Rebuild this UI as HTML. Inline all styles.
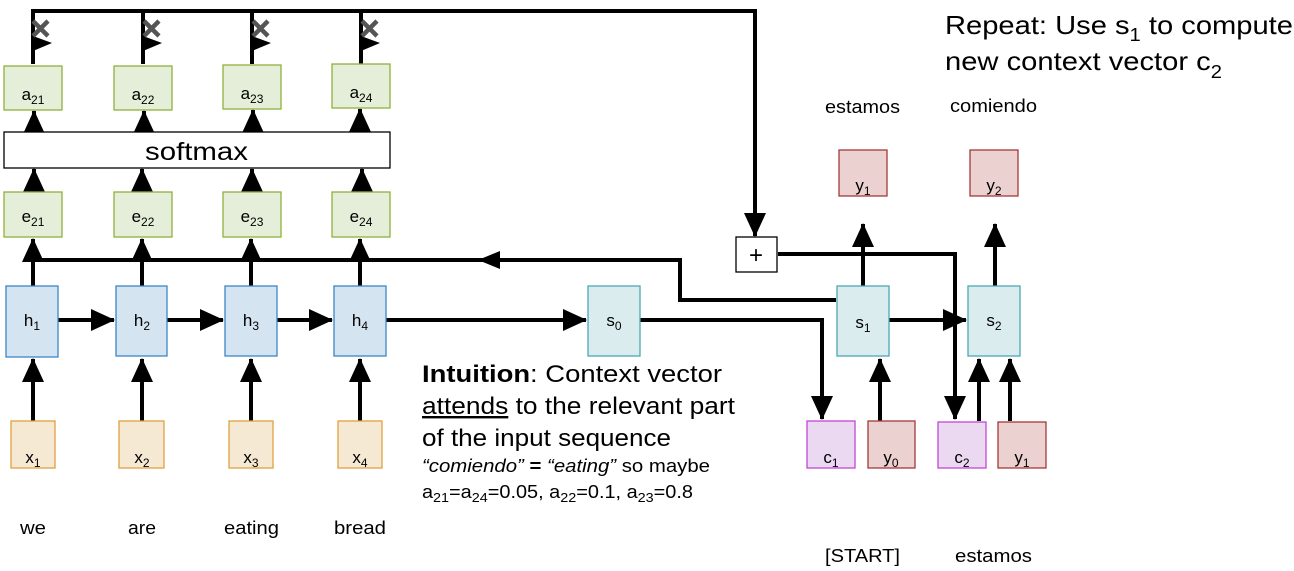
<!DOCTYPE html>
<html><head><meta charset="utf-8"><style>
html,body{margin:0;padding:0;background:#fff;}
svg{display:block;font-family:"Liberation Sans",Arial,sans-serif;}
</style></head><body>
<svg width="1294" height="571" viewBox="0 0 1294 571" xmlns="http://www.w3.org/2000/svg">
<defs>
<marker id="ar" markerWidth="24" markerHeight="22" refX="23" refY="11" orient="auto" markerUnits="userSpaceOnUse" overflow="visible">
<path d="M0,0 L24,11 L0,22 z" fill="#000"/></marker>
</defs>
<g stroke="#000" stroke-width="4" fill="none">
<polyline points="33,44 33,11 755,11 755,236" marker-end="url(#ar)"/>
<line x1="143" y1="44" x2="143" y2="11"/>
<line x1="252" y1="44" x2="252" y2="11"/>
<line x1="361" y1="44" x2="361" y2="11"/>
<line x1="33" y1="64" x2="33" y2="36"/>
<line x1="143" y1="64" x2="143" y2="36"/>
<line x1="252" y1="64" x2="252" y2="36"/>
<line x1="361" y1="64" x2="361" y2="36"/>
<polyline points="33,260 680,260 680,300 836,300"/>
<polyline points="778,254 955,254 955,419" marker-end="url(#ar)"/>
<polyline points="640,320 822,320 822,419" marker-end="url(#ar)"/>
<line x1="58" y1="320" x2="114" y2="320" marker-end="url(#ar)"/>
<line x1="167" y1="320" x2="223" y2="320" marker-end="url(#ar)"/>
<line x1="277" y1="320" x2="332" y2="320" marker-end="url(#ar)"/>
<line x1="386" y1="320" x2="586" y2="320" marker-end="url(#ar)"/>
<line x1="889" y1="320" x2="966" y2="320" marker-end="url(#ar)"/>
</g>
<path d="M478,260 L500,251 L500,269 z" fill="#000"/>
<g stroke="#000" stroke-width="4" fill="none" marker-end="url(#ar)">
<line x1="33" y1="421" x2="33" y2="359"/>
<line x1="142" y1="421" x2="142" y2="359"/>
<line x1="251" y1="421" x2="251" y2="359"/>
<line x1="360" y1="421" x2="360" y2="359"/>
<line x1="33" y1="286" x2="33" y2="239"/>
<line x1="142" y1="286" x2="142" y2="239"/>
<line x1="251" y1="286" x2="251" y2="239"/>
<line x1="360" y1="286" x2="360" y2="239"/>
<line x1="34" y1="192" x2="34" y2="169"/>
<line x1="142" y1="192" x2="142" y2="169"/>
<line x1="252" y1="192" x2="252" y2="169"/>
<line x1="362" y1="192" x2="362" y2="169"/>
<line x1="34" y1="132" x2="34" y2="111"/>
<line x1="144" y1="132" x2="144" y2="111"/>
<line x1="253" y1="132" x2="253" y2="110"/>
<line x1="360" y1="132" x2="360" y2="109"/>
<line x1="863" y1="286" x2="863" y2="224"/>
<line x1="995" y1="286" x2="995" y2="224"/>
<line x1="880" y1="421" x2="880" y2="359"/>
<line x1="979" y1="421" x2="979" y2="359"/>
<line x1="1010" y1="421" x2="1010" y2="359"/>
</g>
<g fill="#000">
<path d="M33,36 L52,43 L33,51 z"/>
<path d="M143,36 L162,43 L143,51 z"/>
<path d="M252,36 L271,43 L252,51 z"/>
<path d="M361,36 L380,43 L361,51 z"/>
</g>
<g stroke="#555" stroke-width="4.5">
<path d="M33,21 L48,36 M48,21 L33,36"/>
<path d="M144,21 L159,36 M159,21 L144,36"/>
<path d="M253,21 L268,36 M268,21 L253,36"/>
<path d="M362,21 L377,36 M377,21 L362,36"/>
</g>
<g fill="#e5eed8" stroke="#8fb03c" stroke-width="1.3">
<rect x="4" y="66" width="58" height="44"/>
<rect x="114" y="66" width="58" height="44"/>
<rect x="223" y="65" width="58" height="44"/>
<rect x="332" y="64" width="58" height="44"/>
<rect x="4" y="192" width="58" height="45"/>
<rect x="114" y="192" width="58" height="45"/>
<rect x="223" y="192" width="58" height="45"/>
<rect x="332" y="192" width="58" height="45"/>
</g>
<rect x="4" y="132" width="386" height="36" fill="#fff" stroke="#000" stroke-width="1.3"/>
<text x="145" y="160" font-size="25" textLength="103" lengthAdjust="spacingAndGlyphs">softmax</text>
<g fill="#d5e4f1" stroke="#3d85c6" stroke-width="1.3">
<rect x="6" y="286" width="52" height="71"/>
<rect x="116" y="286" width="51" height="70"/>
<rect x="225" y="286" width="52" height="70"/>
<rect x="334" y="286" width="52" height="70"/>
</g>
<g fill="#f5e9d4" stroke="#e0a040" stroke-width="1.3">
<rect x="11" y="421" width="44" height="47"/>
<rect x="119" y="421" width="45" height="47"/>
<rect x="229" y="421" width="44" height="47"/>
<rect x="338" y="421" width="44" height="47"/>
</g>
<g fill="#daeced" stroke="#4aa8b5" stroke-width="1.3">
<rect x="588" y="286" width="52" height="70"/>
<rect x="837" y="286" width="52" height="70"/>
<rect x="968" y="286" width="52" height="70"/>
</g>
<g fill="#ebd9f2" stroke="#c247d6" stroke-width="1.3">
<rect x="807" y="421" width="48" height="47"/>
<rect x="938" y="422" width="48" height="46"/>
</g>
<g fill="#ecd1d1" stroke="#a33a3a" stroke-width="1.3">
<rect x="868" y="421" width="47" height="47"/>
<rect x="998" y="422" width="48" height="46"/>
<rect x="839" y="150" width="48" height="46"/>
<rect x="970" y="150" width="48" height="46"/>
</g>
<rect x="736" y="237" width="41" height="35" fill="#fff" stroke="#000" stroke-width="1.3"/>
<text x="756" y="263" font-size="24" text-anchor="middle">+</text>
<g font-size="17" text-anchor="middle">
<text x="33" y="100">a<tspan font-size="12" dy="4">21</tspan></text>
<text x="143" y="100">a<tspan font-size="12" dy="4">22</tspan></text>
<text x="252" y="99">a<tspan font-size="12" dy="4">23</tspan></text>
<text x="361" y="98">a<tspan font-size="12" dy="4">24</tspan></text>
<text x="33" y="222">e<tspan font-size="12" dy="4">21</tspan></text>
<text x="143" y="222">e<tspan font-size="12" dy="4">22</tspan></text>
<text x="252" y="222">e<tspan font-size="12" dy="4">23</tspan></text>
<text x="361" y="222">e<tspan font-size="12" dy="4">24</tspan></text>
<text x="32" y="326">h<tspan font-size="12" dy="4">1</tspan></text>
<text x="142" y="326">h<tspan font-size="12" dy="4">2</tspan></text>
<text x="251" y="326">h<tspan font-size="12" dy="4">3</tspan></text>
<text x="360" y="326">h<tspan font-size="12" dy="4">4</tspan></text>
<text x="33" y="463">x<tspan font-size="12" dy="4">1</tspan></text>
<text x="142" y="463">x<tspan font-size="12" dy="4">2</tspan></text>
<text x="251" y="463">x<tspan font-size="12" dy="4">3</tspan></text>
<text x="360" y="463">x<tspan font-size="12" dy="4">4</tspan></text>
<text x="614" y="326">s<tspan font-size="12" dy="4">0</tspan></text>
<text x="863" y="328">s<tspan font-size="12" dy="4">1</tspan></text>
<text x="994" y="326">s<tspan font-size="12" dy="4">2</tspan></text>
<text x="831" y="463">c<tspan font-size="12" dy="4">1</tspan></text>
<text x="891" y="463">y<tspan font-size="12" dy="4">0</tspan></text>
<text x="962" y="463">c<tspan font-size="12" dy="4">2</tspan></text>
<text x="1022" y="463">y<tspan font-size="12" dy="4">1</tspan></text>
<text x="863" y="191">y<tspan font-size="12" dy="4">1</tspan></text>
<text x="994" y="191">y<tspan font-size="12" dy="4">2</tspan></text>
</g>
<g font-size="18">
<text x="20" y="534" textLength="26" lengthAdjust="spacingAndGlyphs">we</text>
<text x="128" y="534" textLength="28" lengthAdjust="spacingAndGlyphs">are</text>
<text x="224" y="534" textLength="55" lengthAdjust="spacingAndGlyphs">eating</text>
<text x="334" y="534" textLength="52" lengthAdjust="spacingAndGlyphs">bread</text>
<text x="825" y="113" textLength="75" lengthAdjust="spacingAndGlyphs">estamos</text>
<text x="950" y="112" textLength="87" lengthAdjust="spacingAndGlyphs">comiendo</text>
<text x="825" y="562" textLength="75" lengthAdjust="spacingAndGlyphs">[START]</text>
<text x="955" y="562" textLength="77" lengthAdjust="spacingAndGlyphs">estamos</text>
</g>
<g font-size="26">
<text x="945" y="34" textLength="348" lengthAdjust="spacingAndGlyphs">Repeat: Use s<tspan font-size="18" dy="7">1</tspan><tspan dy="-7"> to compute</tspan></text>
<text x="945" y="70" textLength="277" lengthAdjust="spacingAndGlyphs">new context vector c<tspan font-size="18" dy="8">2</tspan></text>
</g>
<g font-size="24">
<text x="422" y="382" textLength="300" lengthAdjust="spacingAndGlyphs"><tspan font-weight="bold">Intuition</tspan>: Context   vector</text>
<text x="422" y="414" textLength="313" lengthAdjust="spacingAndGlyphs"><tspan text-decoration="underline">attends</tspan> to the relevant part</text>
<text x="422" y="446" textLength="249" lengthAdjust="spacingAndGlyphs">of the input sequence</text>
</g>
<text x="422" y="472" font-size="18" textLength="288" lengthAdjust="spacingAndGlyphs"><tspan font-style="italic">“comiendo”</tspan> <tspan font-weight="bold">=</tspan> <tspan font-style="italic">“eating”</tspan> so maybe</text>
<text x="422" y="498" font-size="18" textLength="271" lengthAdjust="spacingAndGlyphs">a<tspan font-size="13" dy="4">21</tspan><tspan dy="-4">=a</tspan><tspan font-size="13" dy="4">24</tspan><tspan dy="-4">=0.05, a</tspan><tspan font-size="13" dy="4">22</tspan><tspan dy="-4">=0.1, a</tspan><tspan font-size="13" dy="4">23</tspan><tspan dy="-4">=0.8</tspan></text>
</svg>
</body></html>
